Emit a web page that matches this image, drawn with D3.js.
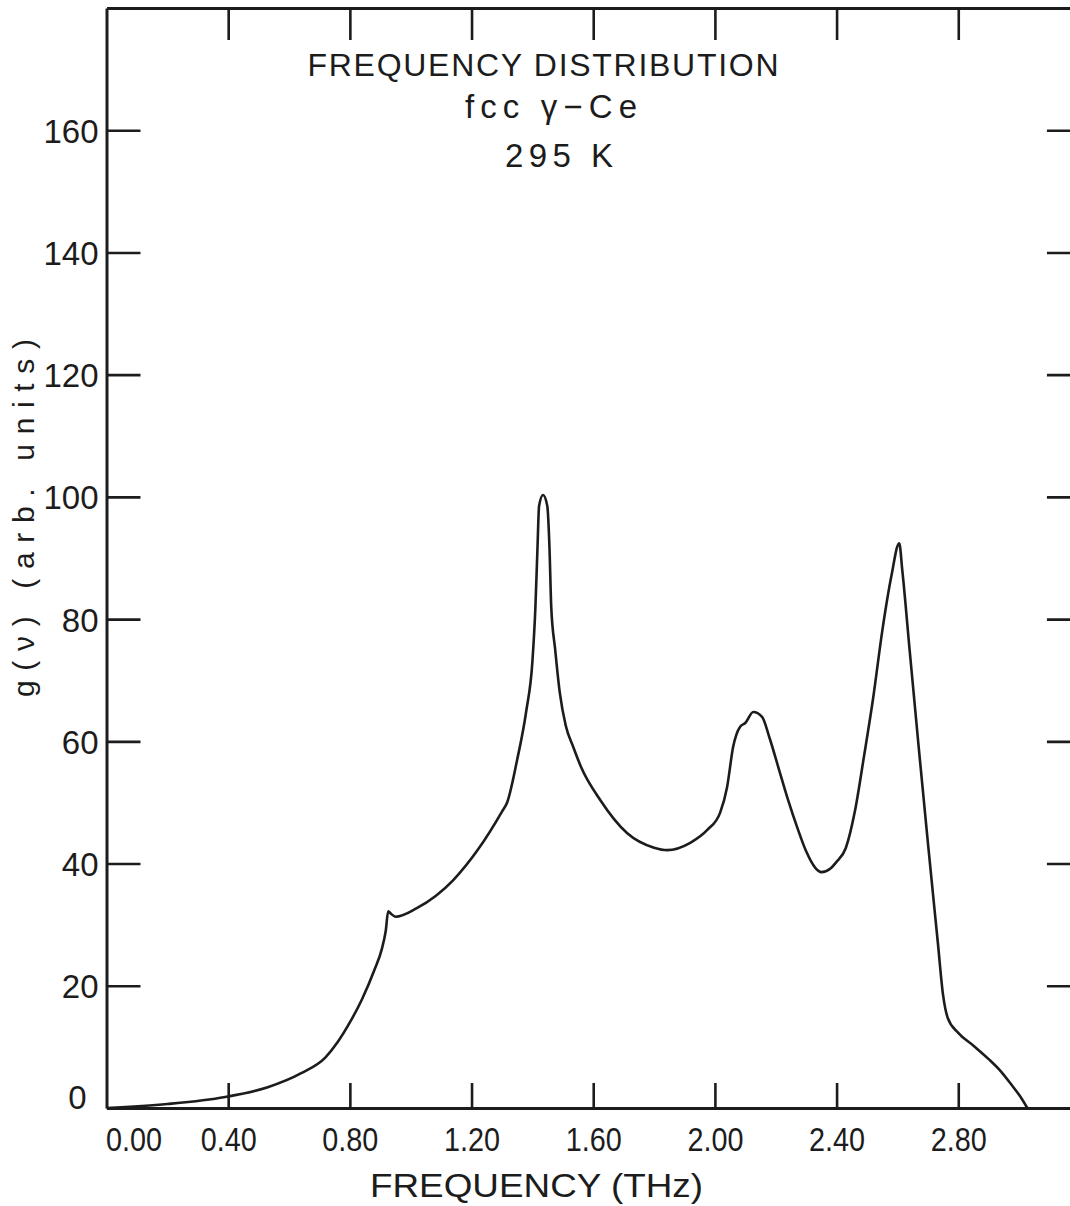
<!DOCTYPE html>
<html>
<head>
<meta charset="utf-8">
<script src="https://cdn.jsdelivr.net/npm/d3@7"></script>
<style>
  html, body { margin: 0; padding: 0; background: #fff; }
  svg { display: block; }
  text { fill: #1c1c1c; }
</style>
</head>
<body>
<svg id="chart" width="1070" height="1206"></svg>
<script>
// ---------- data ----------
const freqTHz = [0.00, 0.20, 0.39, 0.53, 0.64, 0.72, 0.76, 0.80, 0.84, 0.88, 0.905, 0.918, 0.926, 0.935, 0.95, 1.02, 1.14, 1.22, 1.30, 1.317, 1.35, 1.38, 1.40, 1.41, 1.417, 1.422, 1.435, 1.449, 1.456, 1.462, 1.475, 1.49, 1.51, 1.535, 1.56, 1.623, 1.711, 1.80, 1.843, 1.919, 1.975, 2.017, 2.04, 2.06, 2.083, 2.10, 2.126, 2.155, 2.18, 2.21, 2.24, 2.27, 2.30, 2.33, 2.35, 2.38, 2.40, 2.43, 2.46, 2.49, 2.52, 2.55, 2.58, 2.606, 2.616, 2.64, 2.67, 2.70, 2.733, 2.75, 2.765, 2.80, 2.85, 2.90, 2.94, 2.975, 3.005, 3.027];
const gNu = [0.0, 0.65, 1.8, 3.4, 5.7, 8.3, 10.8, 14.0, 17.8, 22.5, 26.0, 29.0, 32.2, 31.8, 31.3, 32.7, 37.3, 42.2, 48.5, 50.0, 57.0, 65.0, 73.0, 82.0, 92.0, 98.5, 100.3, 98.5, 92.0, 82.0, 75.0, 68.0, 62.5, 59.0, 55.8, 50.4, 45.0, 42.6, 42.2, 43.4, 45.5, 48.3, 52.5, 59.1, 62.4, 63.0, 64.8, 64.0, 60.5, 55.5, 50.5, 46.0, 42.0, 39.3, 38.6, 39.2, 40.3, 42.5, 48.5, 57.5, 67.0, 78.0, 87.0, 92.4, 88.0, 75.0, 59.0, 43.5, 27.0, 18.5, 14.8, 12.3, 10.2, 8.0, 6.0, 3.8, 1.8, 0.0];

const xTickValues = [0.0, 0.4, 0.8, 1.2, 1.6, 2.0, 2.4, 2.8];
const xTickLabels = ["0.00", "0.40", "0.80", "1.20", "1.60", "2.00", "2.40", "2.80"];
const yTickValues = [0, 20, 40, 60, 80, 100, 120, 140, 160];
const yTickLabels = ["0", "20", "40", "60", "80", "100", "120", "140", "160"];
const titleLines = ["FREQUENCY DISTRIBUTION", "fcc γ−Ce", "295 K"];
const xTitle = "FREQUENCY (THz)";
const yTitle = "g(ν) (arb. units)";

// ---------- layout ----------
const svg = d3.select("#chart");
const X0 = 106.5, PX_PER_THZ = 304.2;
const x = d3.scaleLinear().domain([0, 3.2]).range([X0, X0 + 3.2 * PX_PER_THZ]);
const y = d3.scaleLinear().domain([0, 180]).range([1108, 8]);
const ink = "#1c1c1c";
const mono = "'Liberation Sans', 'Arial', sans-serif";

function styleAxis(g, width) {
  g.select(".domain").attr("stroke", ink).attr("stroke-width", width);
  g.selectAll(".tick line").attr("stroke", ink).attr("stroke-width", 2.6);
}

// bottom axis (ticks pointing up)
const xb = svg.append("g").attr("transform", `translate(0,${y(0)})`)
  .call(d3.axisBottom(x).tickValues(xTickValues)
    .tickFormat((d, i) => xTickLabels[i])
    .tickSizeInner(-25).tickSizeOuter(0).tickPadding(20));
styleAxis(xb, 3);
xb.selectAll(".tick text")
  .attr("font-family", mono).attr("font-size", 33).attr("fill", ink)
  .attr("textLength", 56).attr("lengthAdjust", "spacingAndGlyphs")
  .attr("dx", (d, i) => i === 0 ? 27 : 0);
xb.selectAll(".tick").filter(d => d === 0).select("line").remove();

// top axis (ticks pointing down, no labels)
const xt = svg.append("g").attr("transform", `translate(0,${y(180)})`)
  .call(d3.axisTop(x).tickValues(xTickValues.filter(v => v > 0))
    .tickFormat("").tickSizeInner(-32).tickSizeOuter(0));
styleAxis(xt, 3);

// left axis (ticks pointing right)
const yl = svg.append("g").attr("transform", `translate(${x(0)},0)`)
  .call(d3.axisLeft(y).tickValues(yTickValues)
    .tickFormat((d, i) => yTickLabels[i])
    .tickSizeInner(-34).tickSizeOuter(0).tickPadding(8));
styleAxis(yl, 3);
yl.selectAll(".tick text")
  .attr("font-family", mono).attr("font-size", 33).attr("fill", ink)
  .attr("dx", d => d === 0 ? -12 : 0)
  .attr("dy", d => d === 0 ? "0.0em" : "0.36em");
yl.selectAll(".tick").filter(d => d === 0).select("line").remove();

// right axis (ticks pointing left, no labels)
const yr = svg.append("g").attr("transform", `translate(${x(3.2)},0)`)
  .call(d3.axisRight(y).tickValues(yTickValues.filter(v => v > 0))
    .tickFormat("").tickSizeInner(-33).tickSizeOuter(0));
styleAxis(yr, 3);

// curve
const line = d3.line()
  .x((d, i) => x(freqTHz[i]))
  .y(d => y(d))
  .curve(d3.curveMonotoneX);
svg.append("path")
  .attr("d", line(gNu))
  .attr("fill", "none")
  .attr("stroke", ink)
  .attr("stroke-width", 2.6)
  .attr("stroke-linejoin", "round");

// title block
const titleSpec = [
  { cx: 543, by: 76, len: 471, size: 32 },
  { cx: 551, by: 118, len: 172, size: 33 },
  { cx: 559, by: 167, len: 108, size: 33 }
];
titleLines.forEach((t, i) => {
  const s = titleSpec[i];
  svg.append("text")
    .attr("x", s.cx - s.len / 2).attr("y", s.by)
    .attr("font-family", mono).attr("font-size", s.size)
    .attr("textLength", s.len).attr("lengthAdjust", "spacing")
    .text(t);
});

// x axis title
svg.append("text")
  .attr("x", 370).attr("y", 1197)
  .attr("font-family", mono).attr("font-size", 33)
  .attr("textLength", 333).attr("lengthAdjust", "spacingAndGlyphs")
  .text(xTitle);

// y axis title
svg.append("text")
  .attr("transform", "translate(34,697) rotate(-90)")
  .attr("x", 0).attr("y", 0)
  .attr("font-family", mono).attr("font-size", 30)
  .attr("textLength", 358).attr("lengthAdjust", "spacing")
  .text(yTitle);
</script>
</body>
</html>
